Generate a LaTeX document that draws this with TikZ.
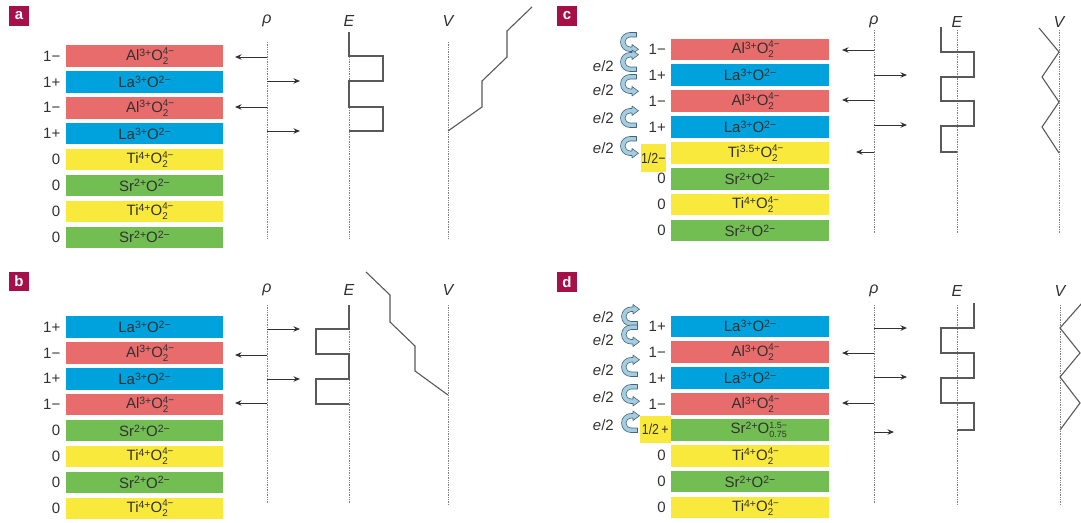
\documentclass[tikz,border=0pt]{standalone}
\usepackage{fontspec}
\setmainfont{Liberation Sans}
\newfontfamily\narrowfont{Liberation Sans}[FakeStretch=0.85]
\usetikzlibrary{arrows.meta}
\definecolor{lblbox}{RGB}{166,16,72}
\definecolor{barred}{RGB}{232,108,108}
\definecolor{barblue}{RGB}{0,162,222}
\definecolor{baryel}{RGB}{249,233,60}
\definecolor{bargreen}{RGB}{114,190,82}
\definecolor{txt}{RGB}{50,50,50}
\definecolor{curlfill}{RGB}{165,205,225}
\definecolor{curldraw}{RGB}{70,100,120}
\newcommand\sps[1]{\raisebox{4.2pt}{\fontsize{10.5}{11}\selectfont #1}}
\newcommand\supsub[3][9.8]{\sbox0{\raisebox{5.8pt}{\fontsize{#1}{11}\selectfont #2}}\sbox2{\raisebox{-4pt}{\fontsize{#1}{11}\selectfont #3}}\dimen0=\wd0 \ifdim\wd2>\dimen0 \dimen0=\wd2\fi\rlap{\usebox0}\rlap{\usebox2}\hspace{\dimen0}}
\newcommand\AlO{Al\sps{3+}O\supsub{4−}{2}}
\newcommand\LaO{La\sps{3+}O\sps{2−}}
\newcommand\TiO{Ti\sps{4+}O\supsub{4−}{2}}
\newcommand\SrO{Sr\sps{2+}O\sps{2−}}
\newcommand\TiHO{Ti\sps{3.5+}O\supsub{4−}{2}}
\newcommand\SrHO{Sr\sps{2+}O\supsub[9]{1.5−}{0.75}}
\begin{document}
\begin{tikzpicture}[x=1pt,y=-1pt,
  bar/.style={minimum width=157pt, minimum height=21.5pt, inner sep=0pt, text=txt, font=\fontsize{15}{16}\selectfont},
  chg/.style={anchor=east, inner sep=0pt, text=txt, font=\fontsize{15}{16}\selectfont},
  half/.style={fill=baryel, inner sep=0pt, text=txt, font=\narrowfont\fontsize{14.5}{16}\selectfont},
  axlbl/.style={inner sep=0pt, text=txt, font=\itshape\fontsize{16}{18}\selectfont},
  elbl/.style={anchor=east, inner sep=0pt, text=txt, font=\fontsize{15}{16}\selectfont},
  plbl/.style={fill=lblbox, text=white, minimum size=19.5pt, inner sep=0pt, font=\bfseries\fontsize{15}{16}\selectfont},
  axisline/.style={densely dotted, gray, line width=0.7pt},
  curve/.style={black!65, line width=1.1pt, line join=miter},
  rarrow/.style={-{Stealth[length=6.5pt,width=5.5pt]}, line width=1pt, txt},
  curl/.pic={\filldraw[fill=curlfill, draw=curldraw, line width=0.6pt, line join=round]
    (6.5,-9.5) -- (0,-9.5) .. controls (-5.3,-9.5) and (-9.5,-5.3) .. (-9.5,0) .. controls (-9.5,5.3) and (-5.3,9.5) .. (0,9.5)
    -- (2,9.5) -- (2,12) -- (8.5,7.25) -- (2,2.5) -- (2,5) -- (0,5)
    .. controls (-2.8,5) and (-5,2.8) .. (-5,0) .. controls (-5,-2.8) and (-2.8,-5) .. (0,-5) -- (6.5,-5) -- cycle;}
]
\useasboundingbox (0,0) rectangle (1081,522);
% panel labels
\node[plbl] (pa) at (19,16) {a};
\node[plbl] (pb) at (19,281.5) {b};
\node[plbl] (pc) at (567,16) {c};
\node[plbl] (pd) at (567,282) {d};
% ---------- panel a ----------
\foreach \t/\c/\q [count=\i] in {\AlO/barred/1−, \LaO/barblue/1+, \AlO/barred/1−, \LaO/barblue/1+, \TiO/baryel/0, \SrO/bargreen/0, \TiO/baryel/0, \SrO/bargreen/0}{
  \node[bar, fill=\c] (a\i) at (144.5,{56+25.9*(\i-1)}) {\t};
  \node[chg] (qa\i) at (60.5,{56+25.9*(\i-1)}) {\q};
}
% ---------- panel b ----------
\foreach \t/\c/\q [count=\i] in {\LaO/barblue/1+, \AlO/barred/1−, \LaO/barblue/1+, \AlO/barred/1−, \SrO/bargreen/0, \TiO/baryel/0, \SrO/bargreen/0, \TiO/baryel/0}{
  \node[bar, fill=\c] (b\i) at (144.5,{327+25.9*(\i-1)}) {\t};
  \node[chg] (qb\i) at (60.5,{327+25.9*(\i-1)}) {\q};
}
% ---------- panel c ----------
\foreach \t/\c/\q [count=\i] in {\AlO/barred/1−, \LaO/barblue/1+, \AlO/barred/1−, \LaO/barblue/1+, \TiHO/baryel/{}, \SrO/bargreen/0, \TiO/baryel/0, \SrO/bargreen/0}{
  \node[bar, fill=\c, minimum width=158pt] (c\i) at (750,{49.3+25.9*(\i-1)}) {\t};
  \node[chg] (qc\i) at (666,{49.3+25.9*(\i-1)}) {\q};
}
\node[half, minimum width=25pt, minimum height=28pt, anchor=east] (hc) at (666,158) {1/2−};
% ---------- panel d ----------
\foreach \t/\c/\q [count=\i] in {\LaO/barblue/1+, \AlO/barred/1−, \LaO/barblue/1+, \AlO/barred/1−, \SrHO/bargreen/{}, \TiO/baryel/0, \SrO/bargreen/0, \TiO/baryel/0}{
  \node[bar, fill=\c, minimum width=158pt] (d\i) at (750,{326.3+25.9*(\i-1)}) {\t};
  \node[chg] (qd\i) at (666,{326.3+25.9*(\i-1)}) {\q};
}
\node[half, minimum width=31pt, minimum height=27pt, anchor=east] (hd) at (671,429.5) {1/2\,+};
% e/2 labels and curly arrows, panel c
\foreach \y [count=\i] in {66,90,118,148}{ \node[elbl] (ec\i) at (614,\y) {\textit{e}/2}; }
\pic at (630,42) {curl};
\pic[yscale=-1] at (630,62) {curl};
\pic at (630,84) {curl};
\pic[yscale=-1] at (630,118) {curl};
\pic at (630,146) {curl};
% e/2 labels and curly arrows, panel d
\foreach \y [count=\i] in {317,340,370,397,425}{ \node[elbl] (ed\i) at (614,\y) {\textit{e}/2}; }
\pic[yscale=-1] at (631,316.5) {curl};
\pic at (631,334.5) {curl};
\pic[yscale=-1] at (631,367) {curl};
\pic at (631,394) {curl};
\pic[yscale=-1] at (631,423) {curl};
% ---------- axes and plots, panel a ----------
\node[axlbl] (rhoa) at (267,21) {ρ};
\node[axlbl] (Ea) at (349,21) {E};
\node[axlbl] (Va) at (448,21) {V};
\draw[axisline] (267,42) -- (267,239);
\draw[axisline] (349,42) -- (349,239);
\draw[axisline] (448,42) -- (448,239);
\draw[rarrow] (267,57) -- (235,57);
\draw[rarrow] (267,81) -- (300,81);
\draw[rarrow] (267,107) -- (235,107);
\draw[rarrow] (267,131) -- (300,131);
\draw[curve] (349,32) -- (349,56) -- (383,56) -- (383,81) -- (349,81) -- (349,107) -- (383,107) -- (383,131) -- (349,131);
\draw[curve] (448,131) -- (482,107) -- (482,81) -- (507,57) -- (507,31) -- (532,7);
% ---------- panel b ----------
\node[axlbl] (rhob) at (267,290) {ρ};
\node[axlbl] (Eb) at (349,290) {E};
\node[axlbl] (Vb) at (448,290) {V};
\draw[axisline] (267,305) -- (267,503);
\draw[axisline] (349,305) -- (349,503);
\draw[axisline] (448,305) -- (448,505);
\draw[rarrow] (267,329) -- (300,329);
\draw[rarrow] (267,355) -- (235,355);
\draw[rarrow] (267,379) -- (300,379);
\draw[rarrow] (267,403) -- (235,403);
\draw[curve] (349,305) -- (349,329) -- (316,329) -- (316,354) -- (349,354) -- (349,379) -- (316,379) -- (316,404) -- (349,404);
\draw[curve] (366,272) -- (390,295) -- (390,322) -- (415,346) -- (415,371) -- (448,395);
% ---------- panel c ----------
\node[axlbl] (rhoc) at (874,22) {ρ};
\node[axlbl] (Ec) at (957,22) {E};
\node[axlbl] (Vc) at (1059,22) {V};
\draw[axisline] (874,30) -- (874,233);
\draw[axisline] (957,30) -- (957,233);
\draw[axisline] (1059,30) -- (1059,233);
\draw[rarrow] (874,50) -- (842,50);
\draw[rarrow] (874,75) -- (907,75);
\draw[rarrow] (874,100) -- (842,100);
\draw[rarrow] (874,125) -- (907,125);
\draw[rarrow] (874,152) -- (856,152);
\draw[curve] (941,27) -- (941,52) -- (974,52) -- (974,77) -- (941,77) -- (941,101) -- (974,101) -- (974,126) -- (941,126) -- (941,152) -- (957,152);
\draw[curve] (1039,28) -- (1059,52) -- (1042,77) -- (1059,102) -- (1042,127) -- (1059,153);
% ---------- panel d ----------
\node[axlbl] (rhod) at (874,291) {ρ};
\node[axlbl] (Ed) at (957,291) {E};
\node[axlbl] (Vd) at (1060,291) {V};
\draw[axisline] (874,305) -- (874,503);
\draw[axisline] (957,305) -- (957,505);
\draw[axisline] (1060,305) -- (1060,505);
\draw[rarrow] (874,328) -- (907,328);
\draw[rarrow] (874,353) -- (842,353);
\draw[rarrow] (874,377) -- (907,377);
\draw[rarrow] (874,403) -- (842,403);
\draw[rarrow] (874,432) -- (894,432);
\draw[curve] (974,303) -- (974,328) -- (941,328) -- (941,353) -- (974,353) -- (974,378) -- (941,378) -- (941,403) -- (974,403) -- (974,430) -- (957,430);
\draw[curve] (1082,303) -- (1060,328) -- (1080,353) -- (1060,377) -- (1080,403) -- (1060,430);
\end{tikzpicture}
\end{document}
